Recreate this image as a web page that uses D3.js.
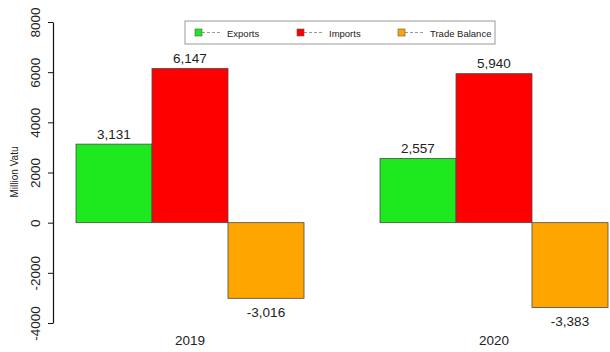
<!DOCTYPE html>
<html>
<head>
<meta charset="utf-8">
<script src="https://cdn.jsdelivr.net/npm/d3@7/dist/d3.min.js"></script>
<style>
  html, body { margin: 0; padding: 0; background: #fff; }
  svg { display: block; font-family: "Liberation Sans", Arial, sans-serif; }
</style>
</head>
<body>
<svg id="chart" width="610" height="352"></svg>
<script>
// Trade figures, million vatu
const years = ["2019", "2020"];
const seriesNames = ["Exports", "Imports", "Trade Balance"];
const exportsVals = [3131, 2557];
const importsVals = [6147, 5940];
const balanceVals = [-3016, -3383];
const yTicks = [-4000, -2000, 0, 2000, 4000, 6000, 8000];
const colors = ["#1ee81e", "#ff0000", "#ffa500"];

const seriesVals = [exportsVals, importsVals, balanceVals];
const svg = d3.select("#chart");

// Bar units: each bar one unit wide, one unit gap before each group
const x = d3.scaleLinear().domain([0, 8]).range([0, 608]);
const y = d3.scaleLinear().domain([-4000, 8000]).range([323, 22]);

// plain hyphen-minus for negatives
const locale = d3.formatLocale({ decimal: ".", thousands: ",", grouping: [3], currency: ["", ""], minus: "-" });
const fmt = locale.format(",");
const tickFmt = locale.format("d");

// bars
years.forEach((yr, g) => {
  const start = 1 + g * 4;
  seriesVals.forEach((vals, s) => {
    const v = vals[g];
    const x0 = x(start + s), x1 = x(start + s + 1);
    svg.append("rect")
      .attr("x", x0).attr("width", x1 - x0)
      .attr("y", y(Math.max(0, v)))
      .attr("height", Math.abs(y(v) - y(0)))
      .attr("fill", colors[s])
      .attr("stroke", "#4a4a4a").attr("stroke-width", 0.8);
    svg.append("text")
      .attr("x", (x0 + x1) / 2)
      .attr("y", v >= 0 ? y(v) - 10 : y(v) + 14)
      .attr("text-anchor", "middle")
      .attr("dominant-baseline", "central")
      .attr("font-size", 13.5).attr("fill", "#222")
      .text(fmt(v));
  });
  svg.append("text")
    .attr("x", x(start + 1.5)).attr("y", 340)
    .attr("text-anchor", "middle").attr("dominant-baseline", "central")
    .attr("font-size", 13.5).attr("fill", "#222")
    .text(yr);
});

// y axis with rotated tick labels
const axisG = svg.append("g").attr("transform", "translate(53,0)")
  .call(d3.axisLeft(y).tickValues(yTicks).tickSize(5).tickSizeOuter(0).tickFormat(tickFmt));
axisG.select(".domain").attr("stroke", "#111").attr("stroke-width", 1.2);
axisG.selectAll(".tick line").attr("stroke", "#111");
axisG.selectAll(".tick text")
  .attr("x", 0).attr("y", 0)
  .attr("transform", "translate(-18,0) rotate(-90)")
  .attr("text-anchor", "middle").attr("dy", "0.35em")
  .attr("font-size", 13.5).attr("fill", "#222")
  .attr("font-family", "\"Liberation Sans\", Arial, sans-serif");

svg.append("text")
  .attr("transform", "translate(14,172) rotate(-90)")
  .attr("text-anchor", "middle").attr("dominant-baseline", "central")
  .attr("font-size", 10).attr("fill", "#222")
  .text("Million Vatu");

// legend
const lg = svg.append("g");
lg.append("rect").attr("x", 185).attr("y", 21).attr("width", 310).attr("height", 23)
  .attr("fill", "#fff").attr("stroke", "#999").attr("stroke-width", 1);
const legendX = [195, 297, 398];
seriesNames.forEach((name, i) => {
  const lx = legendX[i];
  lg.append("line").attr("x1", lx + 7).attr("x2", lx + 26).attr("y1", 32.5).attr("y2", 32.5)
    .attr("stroke", "#999").attr("stroke-dasharray", "3,2");
  lg.append("rect").attr("x", lx).attr("y", 29).attr("width", 7).attr("height", 7)
    .attr("fill", colors[i]).attr("stroke", "#555").attr("stroke-width", 0.6);
  lg.append("text").attr("x", lx + 32).attr("y", 33)
    .attr("dominant-baseline", "central")
    .attr("font-size", 9.5).attr("fill", "#222")
    .text(name);
});
</script>
</body>
</html>
